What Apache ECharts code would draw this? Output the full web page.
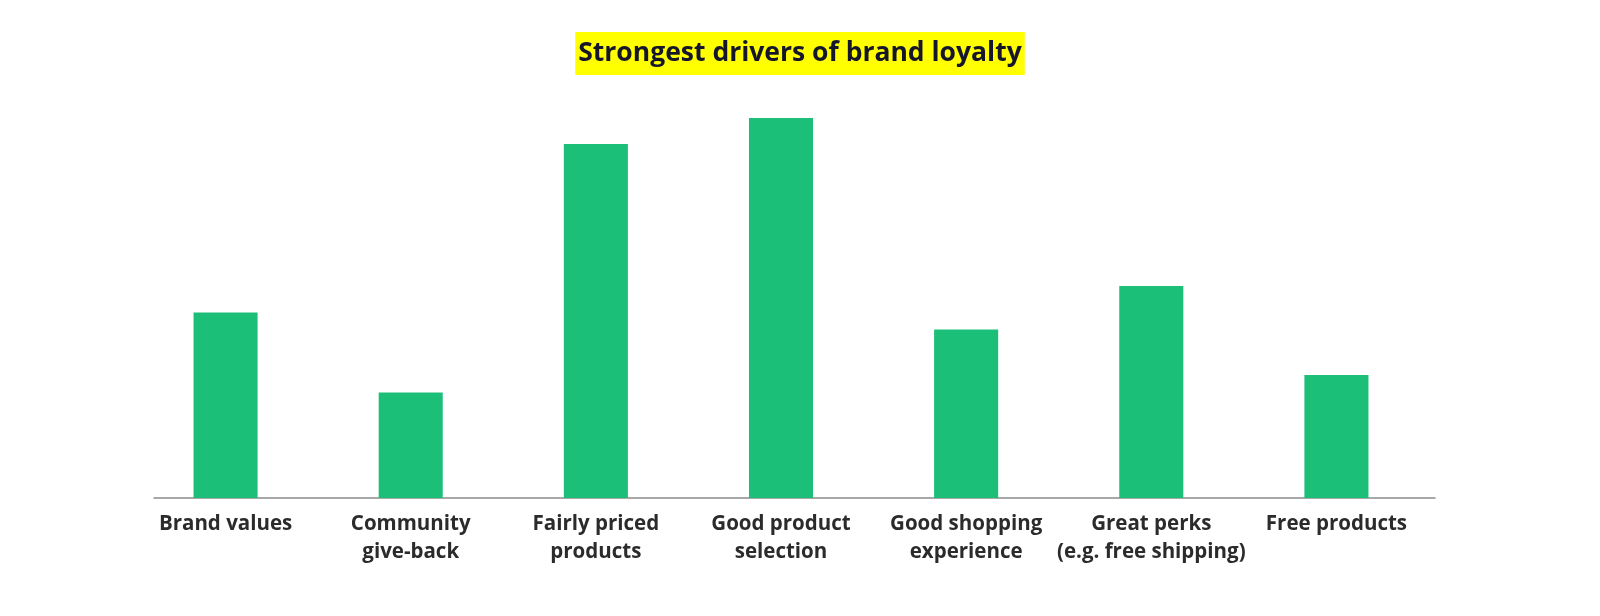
<!DOCTYPE html>
<html>
<head>
<meta charset="utf-8">
<script src="https://cdn.jsdelivr.net/npm/echarts@6/dist/echarts.min.js"></script>
<style>
  html, body { margin: 0; padding: 0; background: #ffffff; }
  #chart { width: 1600px; height: 616px; }
</style>
</head>
<body>
<div id="chart"></div>
<script>
const titleText = 'Strongest drivers of brand loyalty';
const categories = [
  'Brand values',
  'Community\ngive-back',
  'Fairly priced\nproducts',
  'Good product\nselection',
  'Good shopping\nexperience',
  'Great perks\n(e.g. free shipping)',
  'Free products'
];
const values = [37.1, 21.1, 70.8, 76.0, 33.7, 42.4, 24.6];

const FONT = 'Open Sans';
const chart = echarts.init(document.getElementById('chart'), null, { renderer: 'canvas' });
chart.setOption({
  animation: false,
  backgroundColor: '#ffffff',
  title: {
    text: titleText,
    left: 'center',
    top: 32,
    padding: [6, 3, 6, 3],
    backgroundColor: '#ffff00',
    textStyle: {
      fontFamily: FONT,
      fontWeight: 'bold',
      fontSize: 26.5,
      lineHeight: 31,
      color: '#16162a'
    }
  },
  grid: [
    { left: 133, right: 171, top: 98, bottom: 118, containLabel: false },
    { left: 154, right: 165, top: 98, bottom: 118, containLabel: false }
  ],
  xAxis: [
    {
      type: 'category',
      gridIndex: 0,
      data: categories,
      axisTick: { show: false },
      axisLine: { show: false },
      axisLabel: {
        interval: 0,
        margin: 12,
        fontFamily: FONT,
        fontWeight: 'bold',
        fontSize: 20.5,
        lineHeight: 28,
        color: '#2b2b2b'
      }
    },
    {
      type: 'category',
      gridIndex: 1,
      data: categories,
      axisTick: { show: false },
      axisLabel: { show: false },
      axisLine: { show: true, lineStyle: { color: '#8c8c8c', width: 1.5 } }
    }
  ],
  yAxis: [
    { type: 'value', gridIndex: 0, min: 0, max: 80, show: false, splitLine: { show: false } },
    { type: 'value', gridIndex: 1, min: 0, max: 80, show: false, splitLine: { show: false } }
  ],
  series: [{
    type: 'bar',
    xAxisIndex: 0,
    yAxisIndex: 0,
    data: values,
    barWidth: '34.6%',
    itemStyle: { color: '#1cbf78' }
  }]
});
</script>
</body>
</html>
